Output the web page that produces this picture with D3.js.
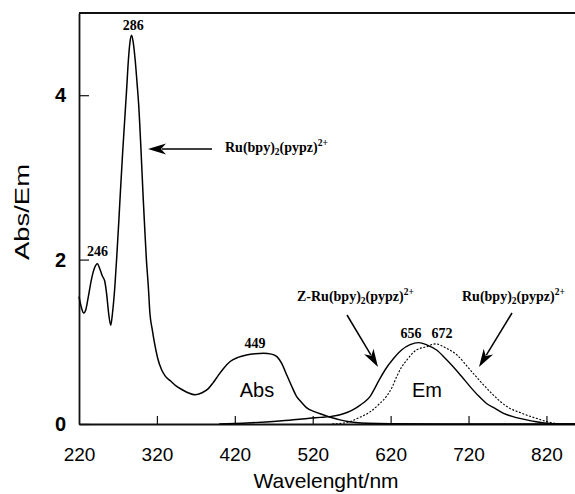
<!DOCTYPE html>
<html><head><meta charset="utf-8">
<script src="https://cdn.jsdelivr.net/npm/d3@7"></script>
<style>body{margin:0;background:#fff}svg{display:block}</style>
</head><body><svg id="c" width="575" height="494"></svg>
<script>
// ---- data ----
const absWavelength = [220,223,226,229,232,236,240,243.5,247,250,253,255.5,258,260.7,263,266,268.5,271,273,276,279,281,283.5,285.5,287.5,289.5,292,294.5,296.5,299.5,302.5,304,306.5,309,311,314,317,321,326,331,338,345,352,360,369,378,386,392,398,405,414,424,435,446,457,467,474,480,486.5,493,499,506,512,522,534,545,555,565,575,590,620,700,860];
const absValue      = [1.55,1.42,1.35,1.40,1.55,1.76,1.90,1.95,1.88,1.80,1.74,1.58,1.35,1.20,1.35,1.67,2.04,2.45,2.80,3.30,3.75,4.05,4.44,4.65,4.73,4.65,4.44,4.15,3.90,3.35,2.73,2.45,2.00,1.67,1.35,1.15,0.98,0.80,0.66,0.58,0.52,0.46,0.42,0.38,0.355,0.38,0.43,0.50,0.58,0.67,0.76,0.81,0.84,0.855,0.86,0.85,0.82,0.74,0.60,0.46,0.34,0.26,0.20,0.15,0.11,0.075,0.05,0.03,0.018,0.008,0.002,0,0];

const emZWavelength = [400,430,460,490,516,530,542,554,564,573,581,588,594,600,605,613,624,634,645,656,667,679,690,700,711,722,733,743,754,765,777,790,805,820,835,860];
const emZValue      = [0,0.01,0.025,0.045,0.07,0.08,0.09,0.11,0.14,0.18,0.23,0.28,0.34,0.44,0.53,0.66,0.80,0.90,0.965,0.99,0.96,0.90,0.80,0.70,0.58,0.455,0.34,0.25,0.19,0.13,0.09,0.06,0.03,0.01,0.002,0];

const emRuWavelength = [545,558,568,580,594,605,615,622,628,634,641,653,666,678,690,705,722,735,750,760,773,786,800,810,820,830,840];
const emRuValue      = [0,0.01,0.03,0.08,0.15,0.24,0.34,0.45,0.58,0.69,0.78,0.90,0.94,0.975,0.93,0.84,0.66,0.52,0.37,0.28,0.19,0.14,0.09,0.06,0.03,0.01,0];

const xTicks = [220,320,420,520,620,720,820];
const yTicks = [0,2,4];
const peakLabels = ["286","246","449","656","672"];
const peakLabelNm = [289.5,243.7,446,646,686];
const peakLabelVal = [4.79,2.04,0.93,1.05,1.05];

// ---- chart ----
const svg = d3.select("#c");
const x = d3.scaleLinear().domain([220,860]).range([79,577.6]);
const y = d3.scaleLinear().domain([0,5]).range([424,13]);
const sans = "'Liberation Sans', Arial, Helvetica, sans-serif";
const serif = "'Liberation Serif', 'Times New Roman', serif";

// frame: top line
svg.append("line").attr("x1",x(220)).attr("x2",575).attr("y1",y(5)).attr("y2",y(5))
  .attr("stroke","#111").attr("stroke-width",1.8);

const xAxis = svg.append("g").attr("transform",`translate(0,${y(0)})`)
  .call(d3.axisBottom(x).tickValues(xTicks).tickSize(-8).tickSizeOuter(0).tickPadding(24));
xAxis.select(".domain").attr("stroke","#111").attr("stroke-width",1.8);
xAxis.selectAll(".tick line").attr("stroke","#111").attr("stroke-width",1.2)
  .filter(d=>d===220).remove();
xAxis.selectAll(".tick text").attr("font-family",sans).attr("font-size",19).attr("fill","#000");

const yAxis = svg.append("g").attr("transform",`translate(${x(220)},0)`)
  .call(d3.axisLeft(y).tickValues(yTicks).tickFormat(d3.format("d")).tickSize(-10).tickSizeOuter(0).tickPadding(13));
yAxis.select(".domain").attr("stroke","#111").attr("stroke-width",1.8);
yAxis.selectAll(".tick line").attr("stroke","#111").attr("stroke-width",1.2);
yAxis.selectAll(".tick text").attr("font-family",sans).attr("font-size",20).attr("font-weight","bold").attr("fill","#000");

// axis titles
svg.append("text").attr("x",326).attr("y",488).attr("text-anchor","middle")
  .attr("font-family",sans).attr("font-size",21).text("Wavelenght/nm");
svg.append("text").attr("transform","translate(29,212) rotate(-90)").attr("text-anchor","middle")
  .attr("font-family",sans).attr("font-size",21).attr("textLength",96).attr("lengthAdjust","spacingAndGlyphs").text("Abs/Em");

// curves
const line = (xs,ys)=>d3.line().x((d,i)=>x(xs[i])).y((d,i)=>y(ys[i])).curve(d3.curveMonotoneX)(xs);
svg.append("path").attr("d",line(absWavelength,absValue)).attr("fill","none").attr("stroke","#000").attr("stroke-width",1.5);
svg.append("path").attr("d",line(emZWavelength,emZValue)).attr("fill","none").attr("stroke","#000").attr("stroke-width",1.4);
svg.append("path").attr("d",line(emRuWavelength,emRuValue)).attr("fill","none").attr("stroke","#000").attr("stroke-width",1.1).attr("stroke-dasharray","2,1.6");

// peak labels
peakLabels.forEach((t,i)=>{
  svg.append("text").attr("x",x(peakLabelNm[i])).attr("y",y(peakLabelVal[i])).attr("text-anchor","middle")
    .attr("font-family",serif).attr("font-weight","bold").attr("font-size",14).text(t);
});

// Abs / Em labels
svg.append("text").attr("x",257).attr("y",397).attr("text-anchor","middle").attr("font-family",sans).attr("font-size",20).text("Abs");
svg.append("text").attr("x",427).attr("y",397).attr("text-anchor","middle").attr("font-family",sans).attr("font-size",20).text("Em");

// compound labels
function compound(xp, yp, prefix){
  const t = svg.append("text").attr("x",xp).attr("y",yp).attr("font-family",serif).attr("font-weight","bold").attr("font-size",14);
  t.append("tspan").text(prefix+"Ru(bpy)");
  t.append("tspan").attr("font-size",9.5).attr("dy",3).text("2");
  t.append("tspan").attr("dy",-3).text("(pypz)");
  t.append("tspan").attr("font-size",9.5).attr("dy",-6).text("2+");
}
compound(225,152,"");
compound(297,301,"Z-");
compound(462,301,"");

// arrows
function arrow(x1,y1,x2,y2){
  const ang = Math.atan2(y2-y1,x2-x1), L=18, W=5.5;
  const bx = x2-L*Math.cos(ang), by = y2-L*Math.sin(ang);
  svg.append("line").attr("x1",x1).attr("y1",y1).attr("x2",bx+4*Math.cos(ang)).attr("y2",by+4*Math.sin(ang)).attr("stroke","#000").attr("stroke-width",1.5);
  const p = [[x2,y2],[bx+W*Math.sin(ang),by-W*Math.cos(ang)],[bx+5*Math.cos(ang),by+5*Math.sin(ang)],[bx-W*Math.sin(ang),by+W*Math.cos(ang)]];
  svg.append("path").attr("d","M"+p.map(q=>q.join(",")).join("L")+"Z").attr("fill","#000");
}
arrow(212,149,148,149);
arrow(347,315,378,367);
arrow(512,313,479,367);
</script></body></html>
